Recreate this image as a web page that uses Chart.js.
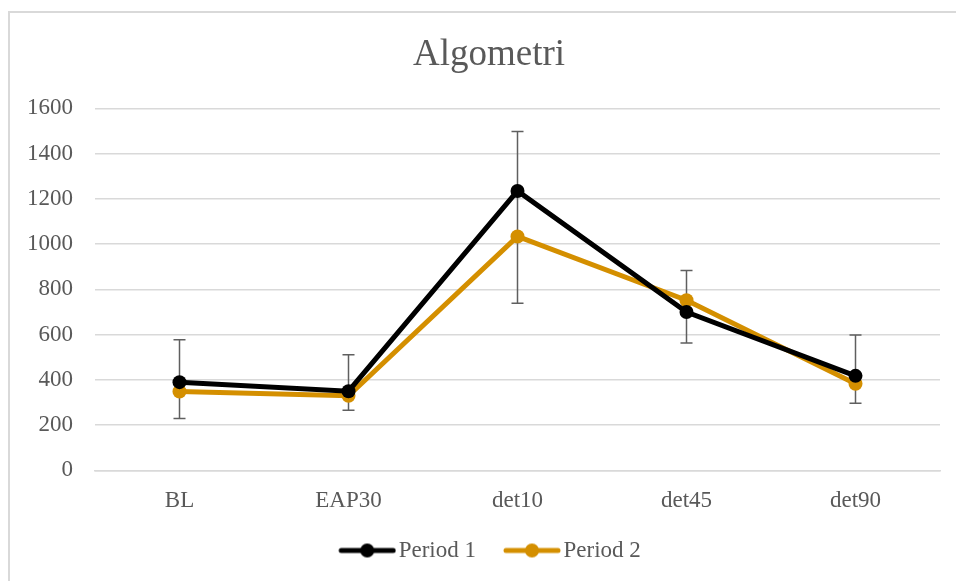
<!DOCTYPE html>
<html>
<head>
<meta charset="utf-8">
<script src="https://cdn.jsdelivr.net/npm/chart.js@4.4.0/dist/chart.umd.min.js"></script>
<style>
  html, body { margin: 0; padding: 0; background: #fff; overflow: hidden; }
  #frame { position: absolute; left: 8px; top: 11px; width: 970px; height: 600px; border: 2px solid #d9d9d9; box-sizing: border-box; }
  #wrap { position: absolute; left: 0; top: 0; width: 956px; height: 581px; }
</style>
</head>
<body>
<div id="frame"></div>
<div id="wrap"><canvas id="chart"></canvas></div>
<script>
const categories = ["BL", "EAP30", "det10", "det45", "det90"];
const period1 = [390, 350, 1235, 700, 418];
const period2 = [349, 330, 1034, 752, 383];
// error bar ends (upper / lower) per category
const errHigh = [577, 511, 1498, 883, 598];
const errLow = [229, 266, 739, 563, 297];
const yTicks = [0, 200, 400, 600, 800, 1000, 1200, 1400, 1600];

const grey = "#595959";
const font = "'Liberation Serif', 'Times New Roman', serif";

// legend marker: line with a dot in the middle (left part of the image is empty
// so the visible mark starts where the legend box starts)
function legendMarker(color) {
    const c = document.createElement("canvas");
    c.width = 66;
    c.height = 16;
    const g = c.getContext("2d");
    g.strokeStyle = color;
    g.lineWidth = 5;
    g.lineCap = "round";
    g.beginPath();
    g.moveTo(11, 8);
    g.lineTo(63, 8);
    g.stroke();
    g.fillStyle = color;
    g.beginPath();
    g.arc(37, 8, 7, 0, Math.PI * 2);
    g.fill();
    return c;
}

const errorBars = {
    id: "errorBars",
    beforeDatasetsDraw(chart) {
        const ctx = chart.ctx;
        const x = chart.scales.x;
        const y = chart.scales.y;
        ctx.save();
        ctx.strokeStyle = "#5f5f5f";
        ctx.lineWidth = 1.5;
        categories.forEach((cat, i) => {
            const px = x.getPixelForValue(i);
            const top = y.getPixelForValue(errHigh[i]);
            const bot = y.getPixelForValue(errLow[i]);
            ctx.beginPath();
            ctx.moveTo(px, top);
            ctx.lineTo(px, bot);
            ctx.moveTo(px - 6, top);
            ctx.lineTo(px + 6, top);
            ctx.moveTo(px - 6, bot);
            ctx.lineTo(px + 6, bot);
            ctx.stroke();
        });
        ctx.restore();
    }
};

// title and legend sit a bit right of the canvas centre in the original;
// legend is also nudged up so the plot can reach further down
const shiftBlocks = {
    id: "shiftBlocks",
    afterLayout(chart) {
        chart.titleBlock.left += 19;
        chart.titleBlock.right += 19;
        chart.legend.left += 20;
        chart.legend.right += 20;
        chart.legend.top -= 21;
        chart.legend.bottom -= 21;
    }
};

const markers = [legendMarker("#000000"), legendMarker("#d48f00")];

new Chart(document.getElementById("chart"), {
    type: "line",
    data: {
        labels: categories,
        datasets: [
            {
                label: "Period 1",
                data: period1,
                borderColor: "#000000",
                backgroundColor: "#000000",
                borderWidth: 5,
                pointRadius: 7,
                pointHoverRadius: 7,
                pointBorderWidth: 0,
                tension: 0
            },
            {
                label: "Period 2",
                data: period2,
                borderColor: "#d48f00",
                backgroundColor: "#d48f00",
                borderWidth: 5,
                pointRadius: 7,
                pointHoverRadius: 7,
                pointBorderWidth: 0,
                tension: 0
            }
        ]
    },
    options: {
        responsive: true,
        maintainAspectRatio: false,
        animation: false,
        layout: { padding: { left: 0, right: 16, top: 0, bottom: -12 } },
        plugins: {
            title: {
                display: true,
                text: "Algometri",
                color: grey,
                font: { family: font, size: 37, weight: "normal", lineHeight: 1.2 },
                padding: { top: 33, bottom: 31 }
            },
            legend: {
                position: "bottom",
                labels: {
                    color: grey,
                    font: { family: font, size: 23 },
                    usePointStyle: true,
                    pointStyleWidth: 48,
                    padding: 28,
                    generateLabels(chart) {
                        const items = Chart.defaults.plugins.legend.labels.generateLabels(chart);
                        items.forEach((it, i) => { it.pointStyle = markers[i]; });
                        return items;
                    }
                }
            },
            tooltip: { enabled: false }
        },
        scales: {
            x: {
                offset: true,
                grid: { display: false, drawTicks: false },
                border: { display: true, color: "#d9d9d9", width: 1.5 },
                ticks: { color: grey, font: { family: font, size: 23 }, padding: 17 }
            },
            y: {
                min: 0,
                max: 1600,
                afterBuildTicks(scale) {
                    scale.ticks = yTicks.map(v => ({ value: v }));
                },
                afterFit(scale) {
                    scale.width = 95;
                },
                grid: { color: "#d9d9d9", lineWidth: 1.5, drawTicks: false },
                border: { display: false },
                ticks: {
                    color: grey,
                    font: { family: font, size: 23 },
                    padding: 22,
                    callback: v => String(v)
                }
            }
        }
    },
    plugins: [errorBars, shiftBlocks]
});
</script>
</body>
</html>
